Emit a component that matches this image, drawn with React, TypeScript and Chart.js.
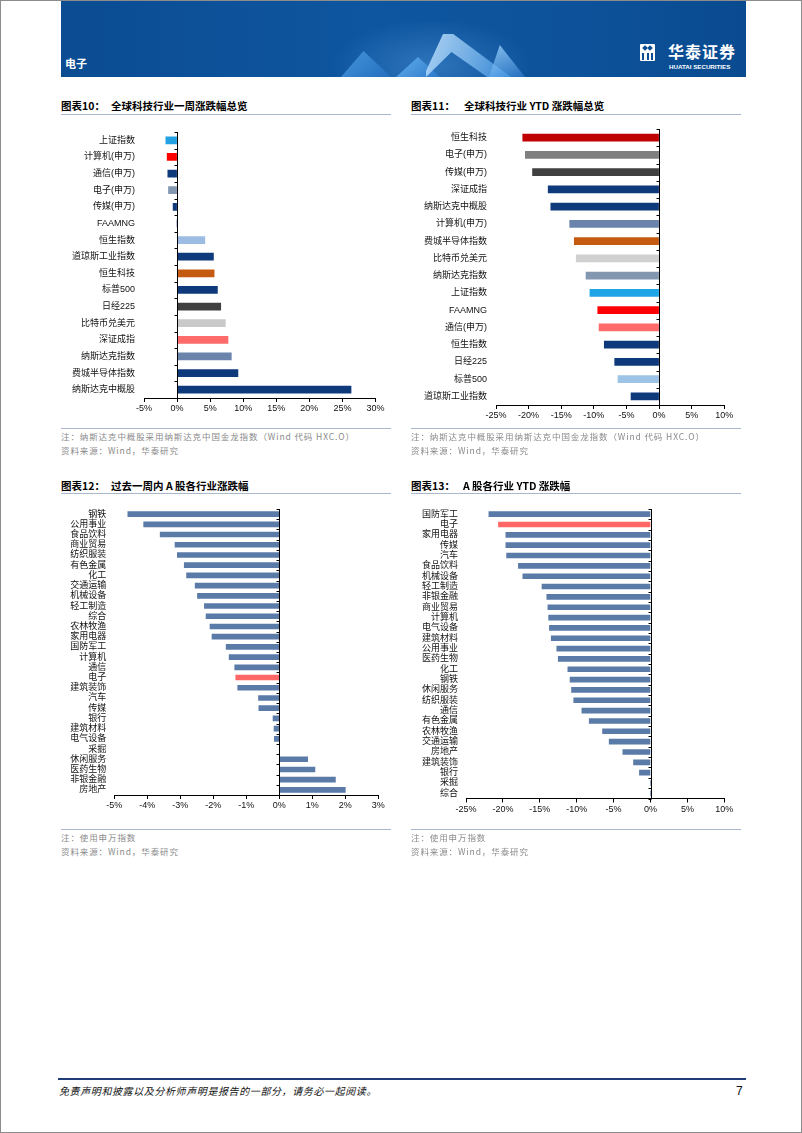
import React, { useEffect, useRef } from 'react';
import { Chart, registerables } from 'chart.js';
Chart.register(...registerables);

// ---------- data ----------
const NAVY = '#0E3A7C';

const weekLabels = ['上证指数', '计算机(申万)', '通信(申万)', '电子(申万)', '传媒(申万)', 'FAAMNG', '恒生指数', '道琼斯工业指数', '恒生科技', '标普500', '日经225', '比特币兑美元', '深证成指', '纳斯达克指数', '费城半导体指数', '纳斯达克中概股'];
const weekValues = [-1.7, -1.5, -1.4, -1.3, -0.6, 0, 4.2, 5.5, 5.6, 6.1, 6.6, 7.3, 7.7, 8.2, 9.2, 26.3];
const weekColors = ['#22A2E2', '#FF0000', NAVY, '#8497B0', NAVY, NAVY, '#9DBCE3', NAVY, '#C55A11', NAVY, '#404040', '#C9C9C9', '#FF6B6B', '#6A84AB', NAVY, NAVY];

const ytdLabels = ['恒生科技', '电子(申万)', '传媒(申万)', '深证成指', '纳斯达克中概股', '计算机(申万)', '费城半导体指数', '比特币兑美元', '纳斯达克指数', '上证指数', 'FAAMNG', '通信(申万)', '恒生指数', '日经225', '标普500', '道琼斯工业指数'];
const ytdValues = [-20.9, -20.5, -19.4, -17.0, -16.6, -13.7, -13.0, -12.7, -11.2, -10.6, -9.4, -9.2, -8.4, -6.8, -6.3, -4.3];
const ytdColors = ['#C00000', '#7F7F7F', '#404040', NAVY, NAVY, '#6A84AB', '#C55A11', '#D0D0D0', '#8497B0', '#1FA5E6', '#FF0000', '#FF6B6B', NAVY, NAVY, '#9DC3E6', NAVY];

const aWeekLabels = ['钢铁', '公用事业', '食品饮料', '商业贸易', '纺织服装', '有色金属', '化工', '交通运输', '机械设备', '轻工制造', '综合', '农林牧渔', '家用电器', '国防军工', '计算机', '通信', '电子', '建筑装饰', '汽车', '传媒', '银行', '建筑材料', '电气设备', '采掘', '休闲服务', '医药生物', '非银金融', '房地产'];
const aWeekValues = [-4.59, -4.11, -3.61, -3.16, -3.09, -2.88, -2.81, -2.55, -2.48, -2.27, -2.22, -2.10, -2.04, -1.61, -1.52, -1.35, -1.32, -1.26, -0.63, -0.62, -0.19, -0.16, -0.15, 0, 0.86, 1.08, 1.70, 2.00];

const aYtdLabels = ['国防军工', '电子', '家用电器', '传媒', '汽车', '食品饮料', '机械设备', '轻工制造', '非银金融', '商业贸易', '计算机', '电气设备', '建筑材料', '公用事业', '医药生物', '化工', '钢铁', '休闲服务', '纺织服装', '通信', '有色金属', '农林牧渔', '交通运输', '房地产', '建筑装饰', '银行', '采掘', '综合'];
const aYtdValues = [-21.9, -20.6, -19.6, -19.6, -19.5, -17.9, -17.3, -14.7, -14.05, -13.9, -13.8, -13.7, -13.45, -12.7, -12.5, -11.2, -10.9, -10.7, -10.4, -9.3, -8.3, -6.5, -5.6, -3.75, -2.3, -1.5, 0, 0];

const STEEL = '#5A7AA8';
const HIGHLIGHT = '#FF6666';
const aWeekColors = aWeekLabels.map((l) => (l === '电子' ? HIGHLIGHT : STEEL));
const aYtdColors = aYtdLabels.map((l) => (l === '电子' ? HIGHLIGHT : STEEL));

// ---------- chart ----------
const TICK_FONT = { family: '"Liberation Sans", "Noto Sans CJK SC", sans-serif', size: 9 };

const zeroAxisPlugin = {
  id: 'zeroAxis',
  afterDatasetsDraw(chart: any) {
    const { ctx, chartArea, scales } = chart;
    const x0 = Math.round(scales.x.getPixelForValue(0)) + 0.5;
    const n = chart.data.labels.length;
    const y = scales.y;
    const half = n > 1 ? (y.getPixelForValue(1) - y.getPixelForValue(0)) / 2 : 0;
    ctx.save();
    ctx.strokeStyle = '#000';
    ctx.lineWidth = 1;
    ctx.beginPath();
    ctx.moveTo(x0, chartArea.top);
    ctx.lineTo(x0, chartArea.bottom);
    for (let i = 0; i <= n; i++) {
      const py = Math.round(y.getPixelForValue(i) - half) + 0.5;
      ctx.moveTo(x0 - 3, py);
      ctx.lineTo(x0, py);
    }
    ctx.stroke();
    ctx.restore();
  },
};

type HBarProps = {
  labels: string[]; values: number[]; colors: string[];
  min: number; max: number; step: number;
  left: number; top: number; width: number; height: number;
  yWidth: number; padTop: number; padRight: number; padBottom: number;
  bar: number; tickPad: number;
};

function HBar(p: HBarProps) {
  const ref = useRef<HTMLCanvasElement>(null);
  useEffect(() => {
    const chart = new Chart(ref.current as HTMLCanvasElement, {
      type: 'bar',
      data: {
        labels: p.labels,
        datasets: [{ data: p.values, backgroundColor: p.colors, borderWidth: 0, barThickness: p.bar }],
      },
      options: {
        indexAxis: 'y',
        responsive: false,
        maintainAspectRatio: false,
        animation: false,
        devicePixelRatio: 1,
        layout: { padding: { left: 0, top: p.padTop, right: p.padRight, bottom: p.padBottom } },
        plugins: { legend: { display: false }, tooltip: { enabled: false } },
        scales: {
          x: {
            type: 'linear',
            min: p.min,
            max: p.max,
            ticks: {
              stepSize: p.step,
              callback: (v: any) => `${Math.round(Number(v))}%`,
              font: TICK_FONT,
              color: '#111',
              padding: 1.5,
              maxRotation: 0,
              autoSkip: false,
            },
            grid: { drawOnChartArea: false, drawTicks: true, tickLength: 4, color: '#000', tickColor: '#000' },
            border: { display: true, color: '#000', width: 1 },
            afterFit: (s: any) => { s.height = 25; },
          },
          y: {
            ticks: { font: TICK_FONT, color: '#111', autoSkip: false, padding: p.tickPad },
            grid: { display: false, drawTicks: false },
            border: { display: false },
            afterFit: (s: any) => { s.width = p.yWidth; },
          },
        },
      } as any,
      plugins: [zeroAxisPlugin],
    });
    return () => chart.destroy();
  }, []);
  return (
    <canvas
      ref={ref}
      width={p.width}
      height={p.height}
      style={{ position: 'absolute', left: p.left, top: p.top, width: p.width, height: p.height }}
    />
  );
}

// ---------- page pieces ----------
const CJK = '"Noto Sans CJK SC", "Liberation Sans", sans-serif';

function Title({ x, y, num, text, textX }: { x: number; y: number; num: string; text: string; textX: number }) {
  const st: React.CSSProperties = {
    position: 'absolute', top: y - 8, height: 16, lineHeight: '16px', fontSize: 10.5, fontWeight: 700,
    color: '#000', whiteSpace: 'nowrap', fontFamily: CJK,
  };
  return (
    <>
      <div style={{ ...st, left: x }}>{num}</div>
      <div style={{ ...st, left: textX }}>{text}</div>
    </>
  );
}

function HLine({ x, y, w, color, h = 1 }: { x: number; y: number; w: number; color: string; h?: number }) {
  return <div style={{ position: 'absolute', left: x, top: y, width: w, height: h, background: color }} />;
}

function Note({ x, y, text }: { x: number; y: number; text: string }) {
  return (
    <div style={{
      position: 'absolute', left: x, top: y - 7, height: 14, lineHeight: '14px', fontSize: 8.5,
      letterSpacing: 0.9, color: '#8a8a8a', whiteSpace: 'nowrap', fontFamily: CJK,
    }}>{text}</div>
  );
}

function Header() {
  return (
    <div style={{
      position: 'absolute', left: 60, top: 0, width: 685, height: 76, overflow: 'hidden',
      background: 'linear-gradient(90deg, #0B4C92 0%, #0E56A0 45%, #0D539C 70%, #0A4B90 100%)',
    }}>
      {/* decorative shapes */}
      <div style={{ position: 'absolute', left: 270, top: 18, width: 200, height: 58,
        background: 'radial-gradient(ellipse at 50% 80%, rgba(120,190,255,0.3), rgba(120,190,255,0) 70%)' }} />
      <div style={{ position: 'absolute', left: 280, top: 50, width: 50, height: 26,
        background: 'linear-gradient(135deg, rgba(90,170,240,0.75), rgba(40,120,210,0.45))',
        clipPath: 'polygon(45% 0, 100% 100%, 0 100%)' }} />
      <div style={{ position: 'absolute', left: 335, top: 56, width: 44, height: 20,
        background: 'linear-gradient(135deg, rgba(110,190,250,0.8), rgba(50,130,220,0.5))',
        clipPath: 'polygon(50% 0, 100% 100%, 0 100%)' }} />
      <div style={{ position: 'absolute', left: 365, top: 33, width: 85, height: 43,
        background: 'linear-gradient(120deg, rgba(200,230,255,0.85), rgba(70,160,240,0.6))',
        clipPath: 'polygon(20% 0, 32% 0, 100% 100%, 72% 100%, 30% 42%, 0 100%, 0 86%)' }} />
      <div style={{ position: 'absolute', left: 428, top: 44, width: 36, height: 32,
        background: 'linear-gradient(160deg, rgba(160,215,255,0.8), rgba(60,140,230,0.45))',
        clipPath: 'polygon(30% 0, 100% 100%, 0 100%)' }} />
      <div style={{ position: 'absolute', left: 4, top: 54, height: 16, lineHeight: '16px', fontSize: 11,
        fontWeight: 700, color: '#fff', fontFamily: CJK }}>电子</div>
      {/* logo */}
      <div style={{ position: 'absolute', left: 579, top: 43, width: 15, height: 17, background: '#fff', borderRadius: 1 }}>
        <div style={{ position: 'absolute', left: 3, top: 2, width: 4, height: 4, background: '#0B4C92', transform: 'rotate(45deg)' }} />
        <div style={{ position: 'absolute', left: 8, top: 2, width: 4, height: 4, background: '#0B4C92', transform: 'rotate(45deg)' }} />
        <div style={{ position: 'absolute', left: 2, top: 9, width: 2, height: 7, background: '#0B4C92' }} />
        <div style={{ position: 'absolute', left: 6.5, top: 9, width: 2, height: 7, background: '#0B4C92' }} />
        <div style={{ position: 'absolute', left: 11, top: 9, width: 2, height: 7, background: '#0B4C92' }} />
      </div>
      <div style={{ position: 'absolute', left: 607, top: 41, height: 18, lineHeight: '18px', fontSize: 16,
        fontWeight: 700, color: '#fff', fontFamily: CJK, letterSpacing: 1 }}>华泰证券</div>
      <div style={{ position: 'absolute', left: 608, top: 62, height: 8, lineHeight: '8px', fontSize: 6.2,
        fontWeight: 700, color: '#fff', fontFamily: '"Liberation Sans", sans-serif' }}>HUATAI SECURITIES</div>
    </div>
  );
}

export default function App() {
  const noteTop1 = '注：纳斯达克中概股采用纳斯达克中国金龙指数（Wind 代码 HXC.O）';
  const src = '资料来源：Wind，华泰研究';
  const noteBottom = '注：使用申万指数';
  const lineColor = '#A9B8CF';
  return (
    <div style={{
      position: 'absolute', left: 0, top: 0, width: 802, height: 1133, background: '#fff',
      boxSizing: 'border-box', border: '1px solid #8c8c8c', overflow: 'hidden', fontFamily: CJK,
    }}>
      <Header />

      {/* top-left */}
      <Title x={60} y={105} num="图表10：" textX={110} text="全球科技行业一周涨跌幅总览" />
      <HLine x={60} y={113} w={330} color={lineColor} />
      <HBar labels={weekLabels} values={weekValues} colors={weekColors} min={-5} max={30} step={5}
        left={60} top={116} width={330} height={310} yWidth={83} padTop={15} padRight={15.5} padBottom={4}
        bar={7} tickPad={9} />
      <HLine x={60} y={427} w={330} color={lineColor} />
      <Note x={60} y={435} text={noteTop1} />
      <Note x={60} y={449} text={src} />

      {/* top-right */}
      <Title x={410} y={105} num="图表11：" textX={463} text="全球科技行业 YTD 涨跌幅总览" />
      <HLine x={410} y={113} w={330} color={lineColor} />
      <HBar labels={ytdLabels} values={ytdValues} colors={ytdColors} min={-25} max={10} step={5}
        left={410} top={113} width={330} height={320} yWidth={85} padTop={15} padRight={16.7} padBottom={4}
        bar={7} tickPad={9} />
      <HLine x={410} y={427} w={330} color={lineColor} />
      <Note x={410} y={435} text={noteTop1} />
      <Note x={410} y={449} text={src} />

      {/* bottom-left */}
      <Title x={60} y={485} num="图表12：" textX={110} text="过去一周内 A 股各行业涨跌幅" />
      <HLine x={60} y={492} w={330} color={lineColor} />
      <HBar labels={aWeekLabels} values={aWeekValues} colors={aWeekColors} min={-5} max={3} step={1}
        left={60} top={493} width={330} height={330} yWidth={53.3} padTop={15} padRight={12.7} padBottom={4}
        bar={5} tickPad={8} />
      <HLine x={60} y={828} w={330} color={lineColor} />
      <Note x={60} y={836} text={noteBottom} />
      <Note x={60} y={850} text={src} />

      {/* bottom-right */}
      <Title x={410} y={485} num="图表13：" textX={462} text="A 股各行业 YTD 涨跌幅" />
      <HLine x={410} y={492} w={330} color={lineColor} />
      <HBar labels={aYtdLabels} values={aYtdValues} colors={aYtdColors} min={-25} max={10} step={5}
        left={410} top={493} width={330} height={330} yWidth={55} padTop={15} padRight={16.7} padBottom={0.5}
        bar={5} tickPad={8} />
      <HLine x={410} y={828} w={330} color={lineColor} />
      <Note x={410} y={836} text={noteBottom} />
      <Note x={410} y={850} text={src} />

      {/* footer */}
      <HLine x={57} y={1077} w={688} h={2} color="#1F3C78" />
      <div style={{ position: 'absolute', left: 58, top: 1083, height: 14, lineHeight: '14px', fontSize: 10,
        fontStyle: 'italic', color: '#111', whiteSpace: 'nowrap', fontFamily: CJK, letterSpacing: 0.6 }}>
        免责声明和披露以及分析师声明是报告的一部分，请务必一起阅读。
      </div>
      <div style={{ position: 'absolute', left: 735, top: 1082, height: 16, lineHeight: '16px', fontSize: 12,
        color: '#111', fontFamily: '"Liberation Sans", sans-serif' }}>7</div>
    </div>
  );
}
